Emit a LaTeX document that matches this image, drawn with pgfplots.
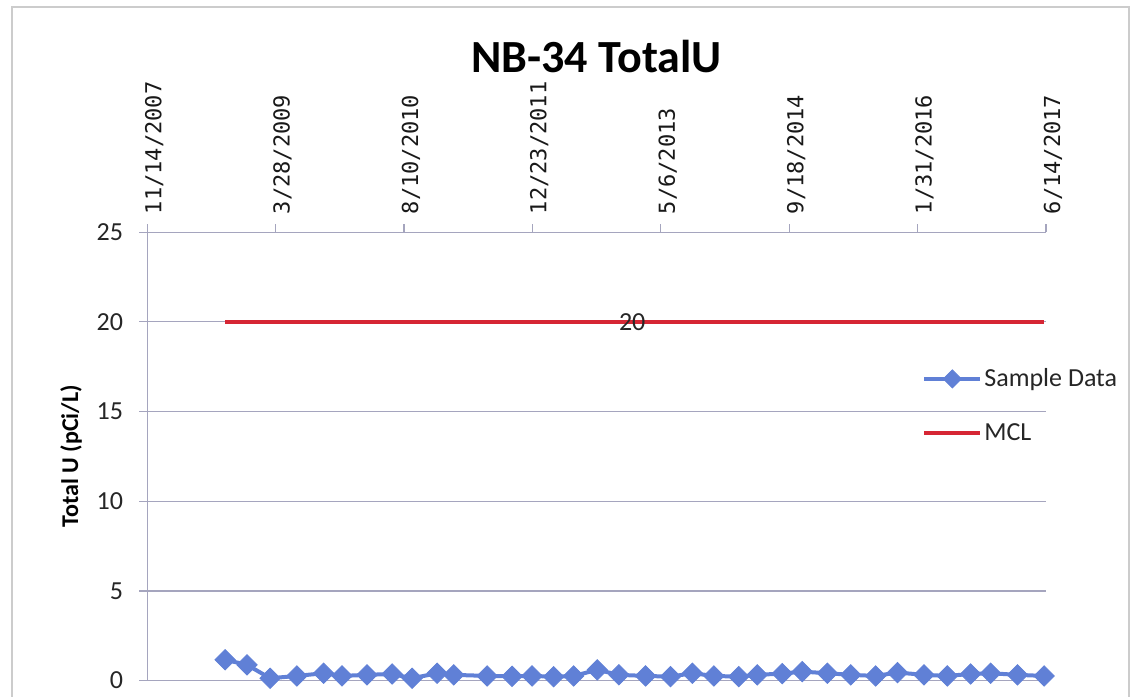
\documentclass[border=0pt]{standalone}
\usepackage{pgfplots}
\pgfplotsset{compat=1.18}
\usepackage{fontspec}
\setmainfont{Carlito}
\newfontfamily\monofont{DejaVu Sans Mono}
\definecolor{sampleblue}{RGB}{96,128,214}
\definecolor{mclred}{RGB}{214,38,52}
\definecolor{gridc}{RGB}{165,165,190}
\begin{document}
\begin{tikzpicture}
\useasboundingbox (-73.5pt,-8pt) rectangle (492.5pt,340pt);
\draw[gray!40, line width=0.6pt] (-67.5pt,-30pt) rectangle (490.5pt,336.5pt);
\begin{axis}[
  scale only axis,
  width=449pt, height=224pt,
  xmin=0, xmax=3500, ymin=0, ymax=25,
  axis x line*=top, axis y line*=left,
  axis line style={gridc, line width=0.6pt},
  xtick={0,500,1000,1500,2000,2500,3000,3500},
  xticklabels={11/14/2007,3/28/2009,8/10/2010,12/23/2011,5/6/2013,9/18/2014,1/31/2016,6/14/2017},
  xticklabel style={font=\monofont\fontsize{11}{13}\selectfont, text=black!90, xshift=3.5pt, yshift=1.5pt, rotate=90, anchor=west},
  ytick={0,5,10,15,20,25},
  yticklabel style={font=\fontsize{13}{15}\selectfont, text=black!85, xshift=-4.5pt},
  /pgf/number format/assume math mode=true,
  tick align=outside,
  major tick length=4pt,
  tick style={gridc, line width=0.6pt},
  ymajorgrids,
  major grid style={gridc, line width=0.6pt},
  title={NB-34 TotalU},
  title style={font=\bfseries\fontsize{23}{28}\selectfont, at={(0.5,1)}, anchor=center, yshift=82pt},
  ylabel={Total U (pCi/L)},
  every axis y label/.style={at={(rel axis cs:0,0.5)}, xshift=-38pt, rotate=90, anchor=center, font=\bfseries\fontsize{12}{14}\selectfont},
  legend style={draw=none, fill=none, at={(rel axis cs:0.862,0.6127)}, anchor=west, inner sep=0pt, row sep=13pt, font=\fontsize{13}{15}\selectfont, nodes={inner xsep=1pt}, text=black!85},
  legend cell align=left,
  legend image code/.code={\draw[mark repeat=2, mark phase=2, mark size=3.2pt, #1] plot coordinates {(0pt,0pt) (14pt,0pt) (28pt,0pt)};},
  clip=false,
]
\addplot[sampleblue, line width=2pt, mark=square*, mark size=3.6pt, mark options={rotate=45, fill=sampleblue, draw=sampleblue, line width=0.4pt}] coordinates {
(304,1.16) (389,0.88) (479,0.13) (583,0.26) (687,0.41) (759,0.26) (856,0.32) (954,0.37) (1032,0.13) (1129,0.41) (1194,0.32) (1324,0.26) (1421,0.24) (1499,0.26) (1583,0.22) (1661,0.26) (1753,0.60) (1837,0.32) (1941,0.26) (2038,0.22) (2123,0.41) (2207,0.26) (2304,0.22) (2376,0.32) (2473,0.39) (2551,0.50) (2649,0.41) (2740,0.32) (2837,0.26) (2922,0.45) (3025,0.32) (3116,0.26) (3207,0.37) (3285,0.41) (3389,0.32) (3493,0.26)
};
\addlegendentry{Sample Data}
\addplot[mclred, line width=2pt] coordinates {(304,20) (3493,20)};
\addlegendentry{MCL}
\node[font=\fontsize{13}{15}\selectfont, text=black!85] at (axis cs:1889,20) {20};
\end{axis}
\end{tikzpicture}
\end{document}
